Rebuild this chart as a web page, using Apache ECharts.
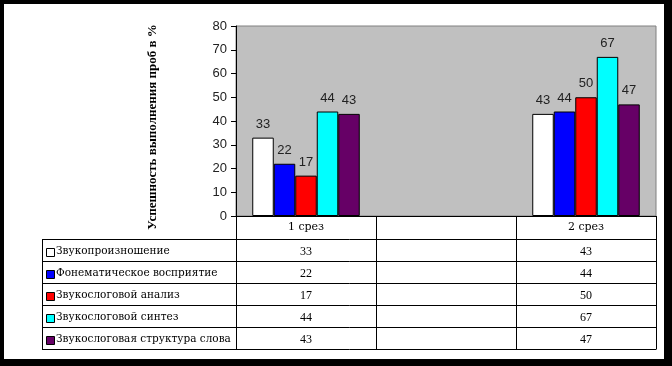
<!DOCTYPE html>
<html><head><meta charset="utf-8">
<script src="https://cdn.jsdelivr.net/npm/echarts@6/dist/echarts.min.js"></script>
<style>
html,body{margin:0;padding:0;background:#000;width:672px;height:366px;overflow:hidden}
#bg{position:absolute;left:4px;top:4px;width:660px;height:355px;background:#fff}
#c{position:absolute;left:0;top:0;width:672px;height:366px}
</style>
</head><body><div id="bg"></div><div id="c"></div>
<script>
// ---- data ----
const categories = ['1 срез', '', '2 срез'];
const seriesNames = ['Звукопроизношение', 'Фонематическое восприятие', 'Звукослоговой анализ', 'Звукослоговой синтез', 'Звукослоговая структура слова'];
const zvukoproiznoshenie = [33, null, 43];
const fonematicheskoe = [22, null, 44];
const zvukoslogovoyAnaliz = [17, null, 50];
const zvukoslogovoySintez = [44, null, 67];
const zvukoslogovayaStruktura = [43, null, 47];
const yTicks = [0, 10, 20, 30, 40, 50, 60, 70, 80];
const yTitle = 'Успешность выполнения проб в %';

const seriesData = [zvukoproiznoshenie, fonematicheskoe, zvukoslogovoyAnaliz, zvukoslogovoySintez, zvukoslogovayaStruktura];
const colors = ['#FFFFFF', '#0000FF', '#FF0000', '#00FFFF', '#660066'];

const chart = echarts.init(document.getElementById('c'), null, {renderer: 'canvas'});
const serif = '"Liberation Serif", "Times New Roman", serif';
const wideSerif = '"DejaVu Serif", serif';
const sans = '"Liberation Sans", Arial, sans-serif';

const option = {
  backgroundColor: 'transparent',
  animation: false,
  grid: {left: 236, top: 26, width: 420, height: 190, show: true, backgroundColor: '#C0C0C0', borderColor: '#808080', borderWidth: 1},
  xAxis: {
    type: 'category', data: categories, boundaryGap: true,
    axisLine: {lineStyle: {color: '#000', width: 1}},
    axisTick: {show: false},
    axisLabel: {color: '#000', fontFamily: wideSerif, fontSize: 11, margin: 6, interval: 0},
    splitLine: {show: false}
  },
  yAxis: {
    type: 'value', min: yTicks[0], max: yTicks[yTicks.length - 1], interval: 10,
    axisLine: {show: true, lineStyle: {color: '#000', width: 1}},
    axisTick: {show: true, length: 5, lineStyle: {color: '#000'}},
    axisLabel: {color: '#222', fontFamily: sans, fontSize: 13, margin: 9},
    splitLine: {show: false}
  },
  series: seriesNames.map((n, i) => ({
    name: n, type: 'bar', data: seriesData[i], barWidth: 21.5, barGap: '0%',
    itemStyle: {color: colors[i], borderColor: '#000', borderWidth: 1},
    label: {show: true, position: 'top', distance: 7, color: '#222', fontFamily: sans, fontSize: 13}
  }))
};
chart.setOption(option);

// ---- data table below the plot ----
const p0 = chart.convertToPixel({gridIndex: 0}, [0, 0]);
const p1 = chart.convertToPixel({gridIndex: 0}, [1, 0]);
const step = p1[0] - p0[0];
const xLeft = p0[0] - step / 2;
const xRight = xLeft + step * categories.length;
const yZero = p0[1];
const headerH = 23, rowH = 22;
const tableLeft = 42;
const tableBottom = yZero + headerH + rowH * seriesNames.length;
const els = [];
const line = (x1, y1, x2, y2) => els.push({type: 'line', shape: {x1, y1, x2, y2}, style: {stroke: '#000', lineWidth: 1}, z: 10});
for (let i = 0; i <= categories.length; i++) {
  const x = Math.round(xLeft + step * i) + 0.5;
  line(x, yZero, x, tableBottom);
}
line(tableLeft + 0.5, yZero + headerH, tableLeft + 0.5, tableBottom);
for (let r = 0; r <= seriesNames.length; r++) {
  const y = Math.round(yZero + headerH + rowH * r) + 0.5;
  line(tableLeft, y, Math.round(xRight) + 0.5, y);
}
seriesNames.forEach((n, r) => {
  const cy = yZero + headerH + rowH * r + rowH / 2 + 1.5;
  els.push({type: 'rect', shape: {x: 46.5, y: Math.round(cy - 4) + 0.5, width: 8, height: 8}, style: {fill: colors[r], stroke: '#000', lineWidth: 1}, z: 11});
  els.push({type: 'text', x: 56, y: cy, style: {text: n, fill: '#000', font: '10.5px ' + wideSerif, textAlign: 'left', textVerticalAlign: 'middle'}, z: 11});
  seriesData[r].forEach((v, c) => {
    if (v === null) return;
    const cx = xLeft + step * (c + 0.5);
    els.push({type: 'text', x: cx, y: cy, style: {text: String(v), fill: '#000', font: '12px ' + serif, textAlign: 'center', textVerticalAlign: 'middle'}, z: 11});
  });
});
els.push({type: 'text', x: 153, y: 127, rotation: Math.PI / 2, style: {text: yTitle, fill: '#000', font: 'bold 13px ' + serif, textAlign: 'center', textVerticalAlign: 'middle'}, z: 11});
chart.setOption({graphic: {elements: els}});
</script>
</body></html>
